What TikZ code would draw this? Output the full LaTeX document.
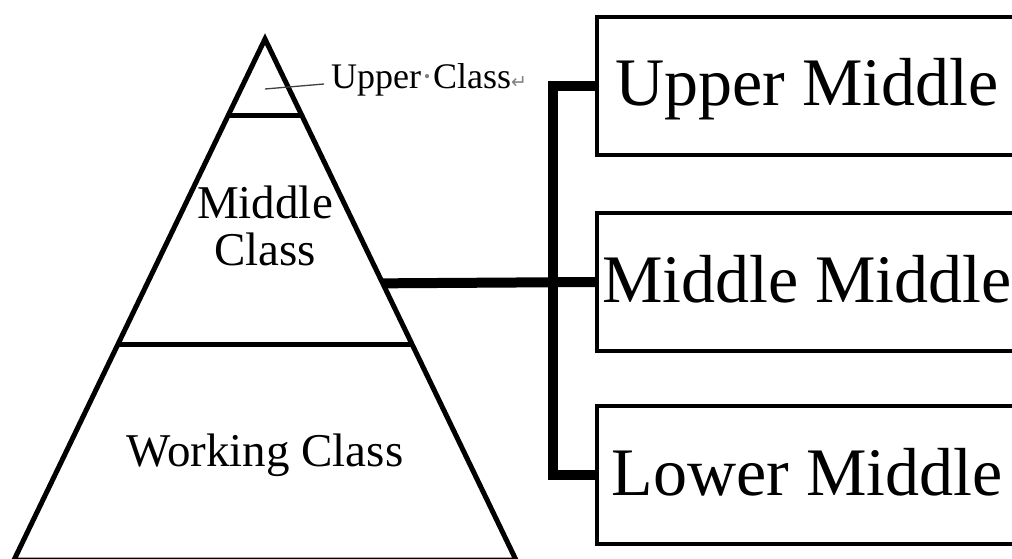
\documentclass[tikz,border=0pt]{standalone}
\usepackage{fontspec}
\setmainfont{Liberation Serif}
\newfontfamily\symfont{DejaVu Sans}
\usetikzlibrary{calc}
\begin{document}
\begin{tikzpicture}[x=1pt,y=-1pt,
  tri/.style={line width=5pt, line join=miter},
  conn/.style={line width=10pt, line join=miter},
  pointer/.style={line width=1.3pt, black!75},
  boxst/.style={draw, line width=4pt, minimum width=420pt, minimum height=138pt,
    inner sep=0pt, text height=40pt, text depth=0pt, font=\fontsize{68}{68}\selectfont},
  clsA/.style={inner sep=0pt, anchor=base, font=\fontsize{47}{47}\selectfont},
  clsB/.style={inner sep=0pt, anchor=base west, font=\fontsize{36}{36}\selectfont}]
\useasboundingbox (0,0) rectangle (1012,559);
\clip (0,0) rectangle (1012,559);
% pyramid
\coordinate (apex) at (265,39);
\coordinate (bl) at (14,560);
\coordinate (br) at (516,560);
\draw[tri] (apex) -- (bl) -- (br) -- cycle;
\draw[tri] ($(apex)!0.146!(bl)$) -- ($(apex)!0.146!(br)$);
\draw[tri] ($(apex)!0.5865!(bl)$) -- ($(apex)!0.5865!(br)$);
\coordinate (mcp) at ($(apex)!0.469!(br)$);
% pyramid labels
\node[clsA] (mid1) at (265,218) {Middle};
\node[clsA] (mid2) at (265,265) {Class};
\node[clsA] (work) at (265,466) {Working Class};
\node[clsB] (uc) at (331,89) {Upper\textcolor{gray}{·}Class{\color{gray}\symfont\fontsize{19}{19}\selectfont ↵}};
\coordinate (ptr) at (265,89);
\draw[pointer] (ptr) -- ($(uc.base west)+(-7,-5)$);
% boxes
\node[boxst] (b1) at (807,86) {Upper Middle};
\node[boxst] (b2) at (807,282) {Middle Middle};
\node[boxst] (b3) at (807,475) {Lower Middle};
% connectors
\coordinate (spine) at (553,282);
\draw[conn] (b1.west) -- (b1.west -| spine) -- (b3.west -| spine) -- (b3.west);
\draw[conn] (mcp) -- (b2.west);
\end{tikzpicture}
\end{document}
